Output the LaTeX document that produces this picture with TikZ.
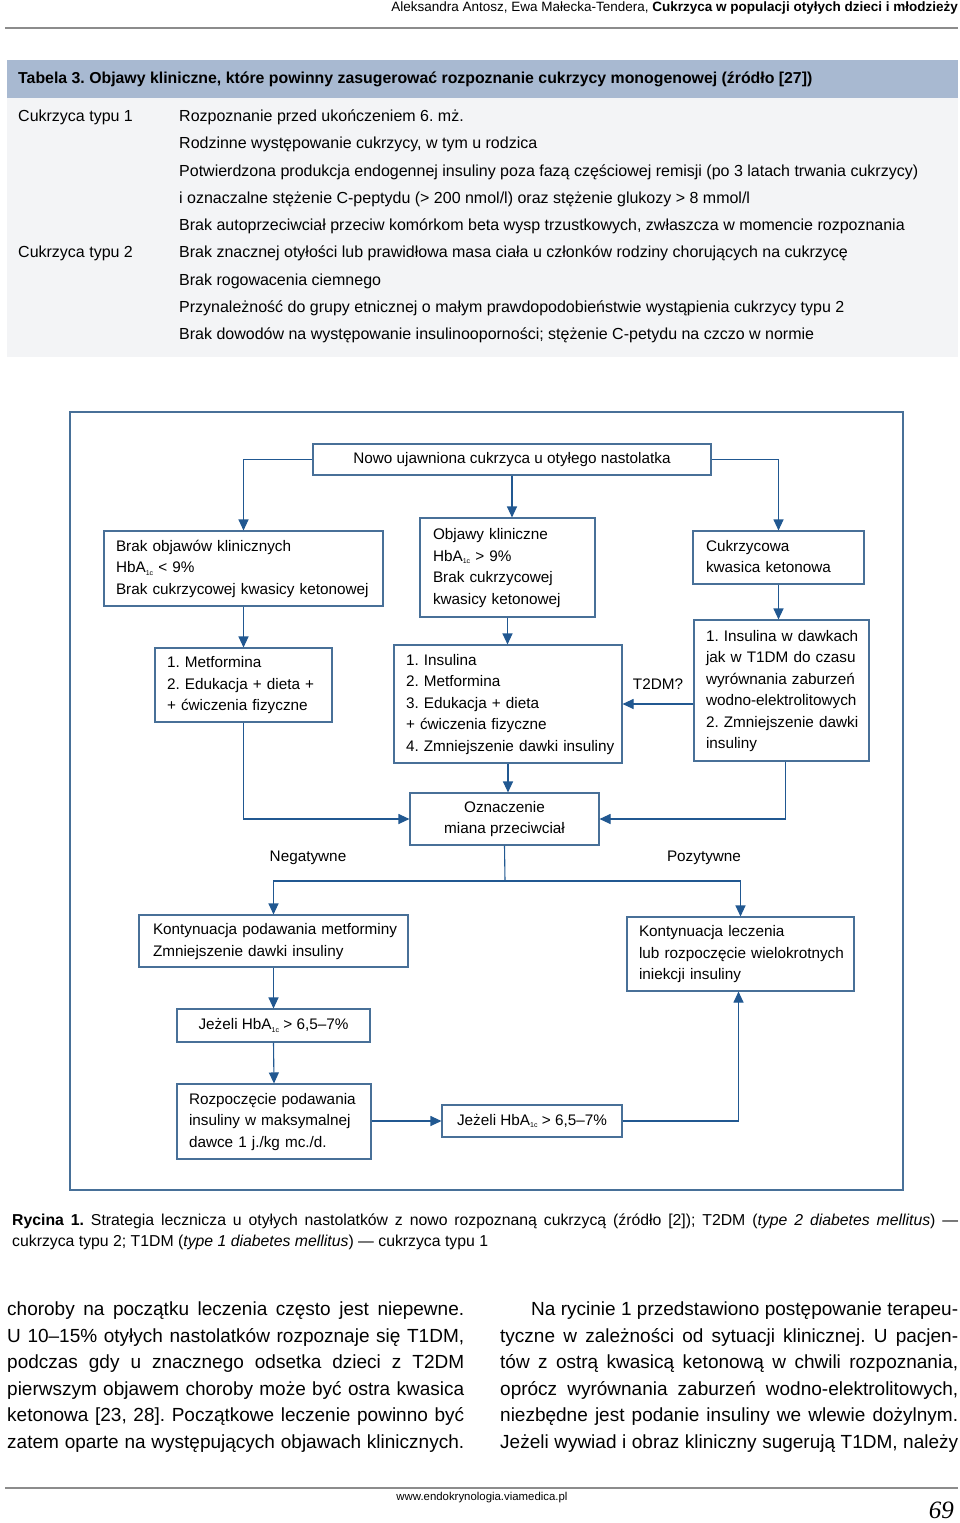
\documentclass[tikz,border=0pt]{standalone}
\usepackage{fontspec}
\setmainfont{Liberation Sans}
\newfontfamily\pagenumfont{Liberation Serif}
\usetikzlibrary{arrows.meta}
\definecolor{bandcol}{RGB}{168,185,209}
\definecolor{tablebg}{RGB}{243,244,246}
\definecolor{boxcol}{RGB}{72,112,152}
\definecolor{arrcol}{RGB}{33,88,145}
\definecolor{rulecol}{RGB}{140,140,140}
\newcommand{\HbAc}{HbA\raisebox{-0.3ex}{\fontsize{7}{7}\selectfont 1c}}
\newcommand{\flowfont}{\fontsize{15.3}{21.5}\selectfont\frenchspacing}
\newcommand{\tabfont}{\fontsize{16}{19}\selectfont}
\newcommand{\bodyfont}{\fontsize{19}{26}\selectfont}
\newcommand{\capfont}{\fontsize{15.8}{19}\selectfont}
\newcommand{\fl}[1]{\begin{tabular}{@{}l@{}}#1\end{tabular}}
\begin{document}
\frenchspacing
\begin{tikzpicture}[x=1pt,y=-1pt,
  fbox/.style={draw=boxcol, line width=1.1pt, inner xsep=12pt, inner ysep=0pt, font=\flowfont, align=left},
  fboxc/.style={draw=boxcol, line width=1.1pt, inner xsep=4pt, inner ysep=0pt, font=\flowfont, align=center},
  arr/.style={draw=arrcol, line width=1.1pt, -{Triangle[length=11pt,width=10pt]}},
  ln/.style={draw=arrcol, line width=1.1pt},
  lbl/.style={font=\flowfont, inner sep=0pt},
  tt/.style={font=\tabfont, anchor=base west, inner sep=0pt},
  bt/.style={font=\bodyfont, anchor=base west, inner sep=0pt},
  ct/.style={font=\capfont, anchor=base west, inner sep=0pt}]
\useasboundingbox (0,0) rectangle (960,1523);
\fill[white] (0,0) rectangle (960,1523);

% running header
\node[anchor=base east, inner sep=0pt, font=\fontsize{13.5}{16}\selectfont] (runhead) at (958,11)
  {Aleksandra Antosz, Ewa Małecka-Tendera, \textbf{Cukrzyca w populacji otyłych dzieci i młodzieży}};
\draw[rulecol, line width=1.2pt] (5,28) -- (958,28);

% table
\fill[bandcol] (7,60) rectangle (958,98);
\fill[tablebg] (7,98) rectangle (958,357);
\node[anchor=base west, inner sep=0pt, font=\fontsize{15.85}{18}\selectfont\bfseries] (tabtitle) at (18,83.5)
  {Tabela 3. Objawy kliniczne, które powinny zasugerować rozpoznanie cukrzycy monogenowej (źródło [27])};
\node[tt] (ta1) at (18,121.5) {Cukrzyca typu 1};
\node[tt] (ta2) at (18,257.5) {Cukrzyca typu 2};
\node[tt] (tb1) at (179,121.5) {Rozpoznanie przed ukończeniem 6. mż.};
\node[tt] (tb2) at (179,148.5) {Rodzinne występowanie cukrzycy, w tym u rodzica};
\node[tt] (tb3) at (179,176.5) {Potwierdzona produkcja endogennej insuliny poza fazą częściowej remisji (po 3 latach trwania cukrzycy)};
\node[tt] (tb4) at (179,203.5) {i oznaczalne stężenie C-peptydu (> 200 nmol/l) oraz stężenie glukozy > 8 mmol/l};
\node[tt] (tb5) at (179,230.5) {Brak autoprzeciwciał przeciw komórkom beta wysp trzustkowych, zwłaszcza w momencie rozpoznania};
\node[tt] (tb6) at (179,257.5) {Brak znacznej otyłości lub prawidłowa masa ciała u członków rodziny chorujących na cukrzycę};
\node[tt] (tb7) at (179,285.5) {Brak rogowacenia ciemnego};
\node[tt] (tb8) at (179,312.5) {Przynależność do grupy etnicznej o małym prawdopodobieństwie wystąpienia cukrzycy typu 2};
\node[tt] (tb9) at (179,339.5) {Brak dowodów na występowanie insulinooporności; stężenie C-petydu na czczo w normie};

% flowchart frame
\draw[boxcol, line width=1.5pt] (70,412) rectangle (903,1190);

\node[fboxc, minimum width=398pt, minimum height=31pt] (top) at (512,459.5) {Nowo ujawniona cukrzyca u otyłego nastolatka};
\node[fbox, text width=255pt, minimum height=75pt] (left1) at (243.5,568.5) {\fl{Brak objawów klinicznych\\\HbAc{} < 9\%\\Brak cukrzycowej kwasicy ketonowej}};
\node[fbox, inner xsep=13pt, text width=149pt, minimum height=99pt] (mid1) at (507.5,567.5) {\fl{Objawy kliniczne\\\HbAc{} > 9\%\\Brak cukrzycowej\\kwasicy ketonowej}};
\node[fbox, inner xsep=13pt, text width=145pt, minimum height=53pt] (right1) at (778.5,557.5) {\fl{Cukrzycowa\\kwasica ketonowa}};
\node[fbox, text width=153pt, minimum height=74pt] (left2) at (243.5,685) {\fl{1. Metformina\\2. Edukacja + dieta +\\+ ćwiczenia fizyczne}};
\node[fbox, text width=204pt, minimum height=118pt] (mid2) at (508,704) {\fl{1. Insulina\\2. Metformina\\3. Edukacja + dieta\\+ ćwiczenia fizyczne\\4. Zmniejszenie dawki insuliny}};
\node[fbox, text width=151pt, minimum height=141pt] (right2) at (781.5,690.5) {\fl{1. Insulina w dawkach\\jak w T1DM do czasu\\wyrównania zaburzeń\\wodno-elektrolitowych\\2. Zmniejszenie dawki\\insuliny}};
\node[fboxc, minimum width=189pt, minimum height=52pt] (ozn) at (504.5,819) {Oznaczenie\\miana przeciwciał};
\node[fbox, inner xsep=14pt, text width=241pt, minimum height=52pt] (kleft) at (273.5,941) {\fl{Kontynuacja podawania metforminy\\Zmniejszenie dawki insuliny}};
\node[fbox, text width=203pt, minimum height=74pt] (kright) at (740.5,954) {\fl{Kontynuacja leczenia\\lub rozpoczęcie wielokrotnych\\iniekcji insuliny}};
\node[fboxc, minimum width=193pt, minimum height=33pt] (jez1) at (273.5,1025.5) {Jeżeli \HbAc{} > 6,5–7\%};
\node[fbox, text width=170pt, minimum height=75pt] (rozp) at (274,1121.5) {\fl{Rozpoczęcie podawania\\insuliny w maksymalnej\\dawce 1 j./kg mc./d.}};
\node[fboxc, minimum width=180pt, minimum height=32pt] (jez2) at (532,1121) {Jeżeli \HbAc{} > 6,5–7\%};

\node[lbl] (t2dm) at (658,684) {T2DM?};
\node[lbl] (neg) at (308,858) {Negatywne};
\node[lbl] (poz) at (704,858) {Pozytywne};
\coordinate (split) at (505,881);

\draw[arr] (top.west) -| (left1.north);
\draw[arr] (top.south) -- (top.south |- mid1.north);
\draw[arr] (top.east) -| (right1.north);
\draw[arr] (left1.south) -- (left2.north);
\draw[arr] (mid1.south) -- (mid1.south |- mid2.north);
\draw[arr] (right1.south) -- (right1.south |- right2.north);
\draw[arr] (right2.west |- mid2) -- (mid2.east);
\draw[arr] (mid2.south) -- (mid2.south |- ozn.north);
\draw[arr] (left2.south) |- (ozn.west);
\draw[arr] ([xshift=4pt]right2.south) |- (ozn.east);
\draw[ln] (ozn.south) -- (split);
\draw[arr] (split) -| (kleft.north);
\draw[arr] (split) -| (kright.north);
\draw[arr] (kleft.south) -- (jez1.north);
\draw[arr] (jez1.south) -- (rozp.north);
\draw[arr] (rozp.east |- jez2) -- (jez2.west);
\draw[arr] (jez2.east) -| ([xshift=-2pt]kright.south);

% caption
\node[ct] (cap1) at (12,1225.5) {\makebox[946pt][s]{\textbf{Rycina 1.} Strategia lecznicza u otyłych nastolatków z nowo rozpoznaną cukrzycą (źródło [2]); T2DM (\textit{type 2 diabetes mellitus}) —}};
\node[ct] (cap2) at (12,1246.5) {cukrzyca typu 2; T1DM (\textit{type 1 diabetes mellitus}) — cukrzyca typu 1};

% body text
\node[bt] (la) at (7,1315) {\makebox[457pt][s]{choroby na początku leczenia często jest niepewne.}};
\node[bt] (lb) at (7,1342) {\makebox[457pt][s]{U 10–15\% otyłych nastolatków rozpoznaje się T1DM,}};
\node[bt] (lc) at (7,1368) {\makebox[457pt][s]{podczas gdy u znacznego odsetka dzieci z T2DM}};
\node[bt] (ld) at (7,1395) {\makebox[457pt][s]{pierwszym objawem choroby może być ostra kwasica}};
\node[bt] (le) at (7,1421) {\makebox[457pt][s]{ketonowa [23, 28]. Początkowe leczenie powinno być}};
\node[bt] (lf) at (7,1448) {\makebox[457pt][s]{zatem oparte na występujących objawach klinicznych.}};
\node[bt] (ra) at (531,1315) {\makebox[427pt][s]{Na rycinie 1 przedstawiono postępowanie terapeu-}};
\node[bt] (rb) at (500,1342) {\makebox[458pt][s]{tyczne w zależności od sytuacji klinicznej. U pacjen-}};
\node[bt] (rc) at (500,1368) {\makebox[458pt][s]{tów z ostrą kwasicą ketonową w chwili rozpoznania,}};
\node[bt] (rd) at (500,1395) {\makebox[458pt][s]{oprócz wyrównania zaburzeń wodno-elektrolitowych,}};
\node[bt] (re) at (500,1421) {\makebox[458pt][s]{niezbędne jest podanie insuliny we wlewie dożylnym.}};
\node[bt] (rf) at (500,1448) {\makebox[458pt][s]{Jeżeli wywiad i obraz kliniczny sugerują T1DM, należy}};

% footer
\draw[rulecol, line width=1.2pt] (5,1488) -- (958,1488);
\node[anchor=base, inner sep=0pt, font=\fontsize{11.4}{13}\selectfont] (url) at (482,1500) {www.endokrynologia.viamedica.pl};
\node[anchor=base east, inner sep=0pt, font=\fontsize{25}{28}\selectfont\pagenumfont\itshape] (pnum) at (954,1518) {69};
\end{tikzpicture}
\end{document}
